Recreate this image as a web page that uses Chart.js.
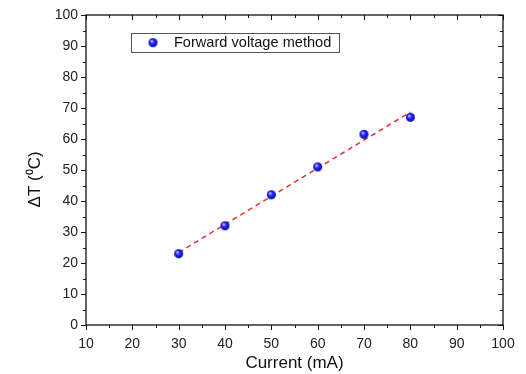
<!DOCTYPE html>
<html><head><meta charset="utf-8">
<script src="https://cdn.jsdelivr.net/npm/chart.js@4/dist/chart.umd.min.js"></script>
<style>html,body{margin:0;padding:0;background:#fff}#w{width:526px;height:374px}</style>
</head><body><div id="w"><canvas id="c"></canvas></div>
<script>
const currents = [30, 40, 50, 60, 70, 80];
const deltaT = [23, 32, 42, 51, 61.5, 67];
const fitX = [30, 80];
const fitY = [23.4, 68.7];
const seriesLabel = 'Forward voltage method';
const xTitle = 'Current (mA)';
const yTitle = 'ΔT (⁰C)    ';

const FONT = "'Liberation Sans', Arial, sans-serif";

// sphere marker image
function sphere(r){
  const c = document.createElement('canvas');
  c.width = c.height = r*2+2;
  const g = c.getContext('2d');
  const cx = r+1, cy = r+1;
  const grad = g.createRadialGradient(cx-r*0.3, cy-r*0.35, r*0.1, cx, cy, r);
  grad.addColorStop(0, '#c8c8ff');
  grad.addColorStop(0.35, '#3030ff');
  grad.addColorStop(1, '#0000b0');
  g.fillStyle = grad;
  g.beginPath(); g.arc(cx, cy, r, 0, Math.PI*2); g.fill();
  return c;
}
const ball = sphere(4.5);

const axisPlugin = {
  id: 'axisTicks',
  afterDraw(chart){
    const {ctx, chartArea:a, scales:{x, y}} = chart;
    ctx.save();
    ctx.strokeStyle = '#111';
    ctx.lineWidth = 1.3;
    ctx.strokeRect(a.left, a.top, a.right-a.left, a.bottom-a.top);
    ctx.lineWidth = 1;
    ctx.beginPath();
    for (let v = 10; v <= 100; v += 5){
      const px = Math.round(x.getPixelForValue(v))+0.5;
      const L = (v % 10 === 0) ? 5 : 3;
      ctx.moveTo(px, a.bottom); ctx.lineTo(px, a.bottom + L);
      ctx.moveTo(px, a.top); ctx.lineTo(px, a.top + L);
    }
    for (let v = 0; v <= 100; v += 5){
      const py = Math.round(y.getPixelForValue(v))+0.5;
      const L = (v % 10 === 0) ? 5 : 3;
      ctx.moveTo(a.left, py); ctx.lineTo(a.left - L, py);
      ctx.moveTo(a.right, py); ctx.lineTo(a.right - L, py);
    }
    ctx.stroke();
    // legend box
    const bx = x.getPixelForValue(19.7), by = y.getPixelForValue(94.3);
    const bw = 208, bh = 19;
    ctx.strokeStyle = '#555';
    ctx.lineWidth = 1;
    ctx.fillStyle = '#fff';
    ctx.fillRect(bx, by, bw, bh);
    ctx.strokeRect(Math.round(bx)+0.5, Math.round(by)+0.5, bw, bh);
    ctx.drawImage(ball, bx + 22 - ball.width/2, by + bh/2 - ball.height/2 + 0.5);
    ctx.fillStyle = '#111';
    ctx.font = '14.6px ' + FONT;
    ctx.textBaseline = 'middle';
    ctx.textAlign = 'left';
    ctx.fillText(chart.data.datasets[0].label, bx + 43, by + bh/2 + 1);
    ctx.restore();
  }
};

new Chart(document.getElementById('c'), {
  type: 'scatter',
  data: {
    datasets: [
      {
        label: seriesLabel,
        data: currents.map((c, i) => ({x: c, y: deltaT[i]})),
        pointStyle: ball,
        pointRadius: 5,
        showLine: false,
        order: 0
      },
      {
        label: 'fit',
        data: fitX.map((c, i) => ({x: c, y: fitY[i]})),
        showLine: true,
        borderColor: '#e8302a',
        borderWidth: 1.5,
        borderDash: [5, 4],
        pointRadius: 0,
        order: 1
      }
    ]
  },
  plugins: [axisPlugin],
  options: {
    responsive: true,
    maintainAspectRatio: false,
    animation: false,
    devicePixelRatio: 1,
    layout: {padding: {left: 14, right: 23, top: 15, bottom: 0}},
    plugins: {legend: {display: false}, tooltip: {enabled: false}},
    scales: {
      x: {
        type: 'linear', min: 10, max: 100,
        afterFit(s){ s.height = 374 - 325; },
        ticks: {stepSize: 10, color: '#222', font: {family: FONT, size: 14}, padding: 3, maxRotation: 0},
        grid: {display: false},
        border: {display: false},
        title: {display: true, text: xTitle, color: '#111', font: {family: FONT, size: 17}, padding: {top: 0, bottom: 0}}
      },
      y: {
        type: 'linear', min: 0, max: 100,
        afterFit(s){ s.width = 86 - 14; },
        ticks: {stepSize: 10, color: '#222', font: {family: FONT, size: 14}, padding: 0},
        grid: {display: false},
        border: {display: false},
        title: {display: true, text: yTitle, color: '#111', font: {family: FONT, size: 17}, padding: {top: 11, bottom: 4}}
      }
    }
  }
});
</script>
</body></html>
